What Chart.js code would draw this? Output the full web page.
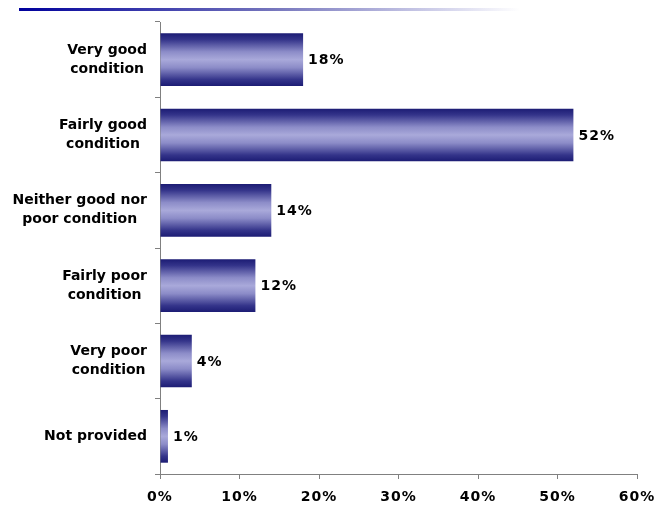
<!DOCTYPE html>
<html>
<head>
<meta charset="utf-8">
<script src="https://cdn.jsdelivr.net/npm/chart.js@4/dist/chart.umd.min.js"></script>
<style>
  html, body { margin: 0; padding: 0; background: #ffffff; }
  #wrap { width: 656px; height: 506px; }
</style>
</head>
<body>
<div id="wrap"><canvas id="c" width="656" height="506"></canvas></div>
<script>
// Survey answers: condition ratings, share of respondents (%)
const categories = [
  ['Very good', 'condition'],
  ['Fairly good', 'condition'],
  ['Neither good nor', 'poor condition'],
  ['Fairly poor', 'condition'],
  ['Very poor', 'condition'],
  ['Not provided']
];
const shares = [18, 52, 14, 12, 4, 1];
const axisTicks = [0, 10, 20, 30, 40, 50, 60];

const FONT = '"DejaVu Sans", Verdana, sans-serif';
const BAR_FRACTION = 0.7;

// Vertical navy-to-lavender shading for each bar
function barFill(ctx) {
  const chart = ctx.chart;
  const y = chart.scales && chart.scales.y;
  if (!y || !chart.chartArea || ctx.dataIndex === undefined) return '#5a5aa8';
  const centre = y.getPixelForValue(ctx.dataIndex);
  const half = (y.height / categories.length) * BAR_FRACTION / 2;
  const g = chart.ctx.createLinearGradient(0, centre - half, 0, centre + half);
  g.addColorStop(0, '#1c1c74');
  g.addColorStop(0.12, '#34348a');
  g.addColorStop(0.35, '#8c8cc8');
  g.addColorStop(0.5, '#a9a9da');
  g.addColorStop(0.65, '#8c8cc8');
  g.addColorStop(0.88, '#34348a');
  g.addColorStop(1, '#1c1c74');
  return g;
}

// Header rule, category labels and value labels
const decorations = {
  id: 'decorations',
  beforeDraw(chart) {
    // slightly open tracking for the percentage texts
    chart.ctx.letterSpacing = '1px';
  },
  afterDraw(chart) {
    const c = chart.ctx;
    const y = chart.scales.y;
    c.save();
    // fading rule across the top
    const rule = c.createLinearGradient(19, 0, 520, 0);
    rule.addColorStop(0, '#00009c');
    rule.addColorStop(0.5, '#7474bc');
    rule.addColorStop(0.85, '#d4d4ec');
    rule.addColorStop(1, '#ffffff');
    c.fillStyle = rule;
    c.fillRect(19, 8, 501, 3);

    // category labels: block right-aligned to the axis, lines centred within it
    c.letterSpacing = '0px';
    c.font = 'bold 14px ' + FONT;
    c.fillStyle = '#000000';
    c.textBaseline = 'middle';
    c.textAlign = 'center';
    const right = y.left + y.width - 13;
    const lh = 19;
    categories.forEach((lines, i) => {
      const cy = y.getPixelForValue(i);
      const w = Math.max(...lines.map(l => c.measureText(l).width));
      const cx = right - w / 2;
      lines.forEach((l, k) => {
        c.fillText(l, cx, cy + (k - (lines.length - 1) / 2) * lh);
      });
    });

    // value labels at the bar ends
    c.letterSpacing = '1px';
    c.textAlign = 'left';
    const meta = chart.getDatasetMeta(0);
    meta.data.forEach((bar, i) => {
      c.fillText(shares[i] + '%', bar.x + 5, bar.y + 1);
    });
    c.restore();
  }
};

new Chart(document.getElementById('c'), {
  type: 'bar',
  data: {
    labels: categories,
    datasets: [{
      data: shares,
      backgroundColor: barFill,
      borderWidth: 0,
      categoryPercentage: 1,
      barPercentage: BAR_FRACTION
    }]
  },
  options: {
    indexAxis: 'y',
    responsive: false,
    animation: false,
    devicePixelRatio: 1,
    layout: { padding: { top: 22, right: 19, left: 0, bottom: 0 } },
    plugins: { legend: { display: false }, tooltip: { enabled: false } },
    scales: {
      x: {
        min: 0,
        max: 60,
        afterBuildTicks(scale) { scale.ticks = axisTicks.map(v => ({ value: v })); },
        afterFit(scale) {
          scale.height = 32;
          scale.paddingLeft = 0;
          scale.paddingRight = 0;
        },
        border: { color: '#808080', width: 1 },
        grid: { drawOnChartArea: false, tickLength: 5, color: '#808080' },
        ticks: {
          callback: v => v + '%',
          color: '#000000',
          font: { family: FONT, size: 14, weight: 'bold' },
          padding: 10,
          maxRotation: 0
        }
      },
      y: {
        afterFit(scale) { scale.width = 160; },
        border: { color: '#808080', width: 1 },
        grid: { drawOnChartArea: false, tickLength: 5, color: '#808080', offset: true },
        ticks: { display: false }
      }
    }
  },
  plugins: [decorations]
});
</script>
</body>
</html>
